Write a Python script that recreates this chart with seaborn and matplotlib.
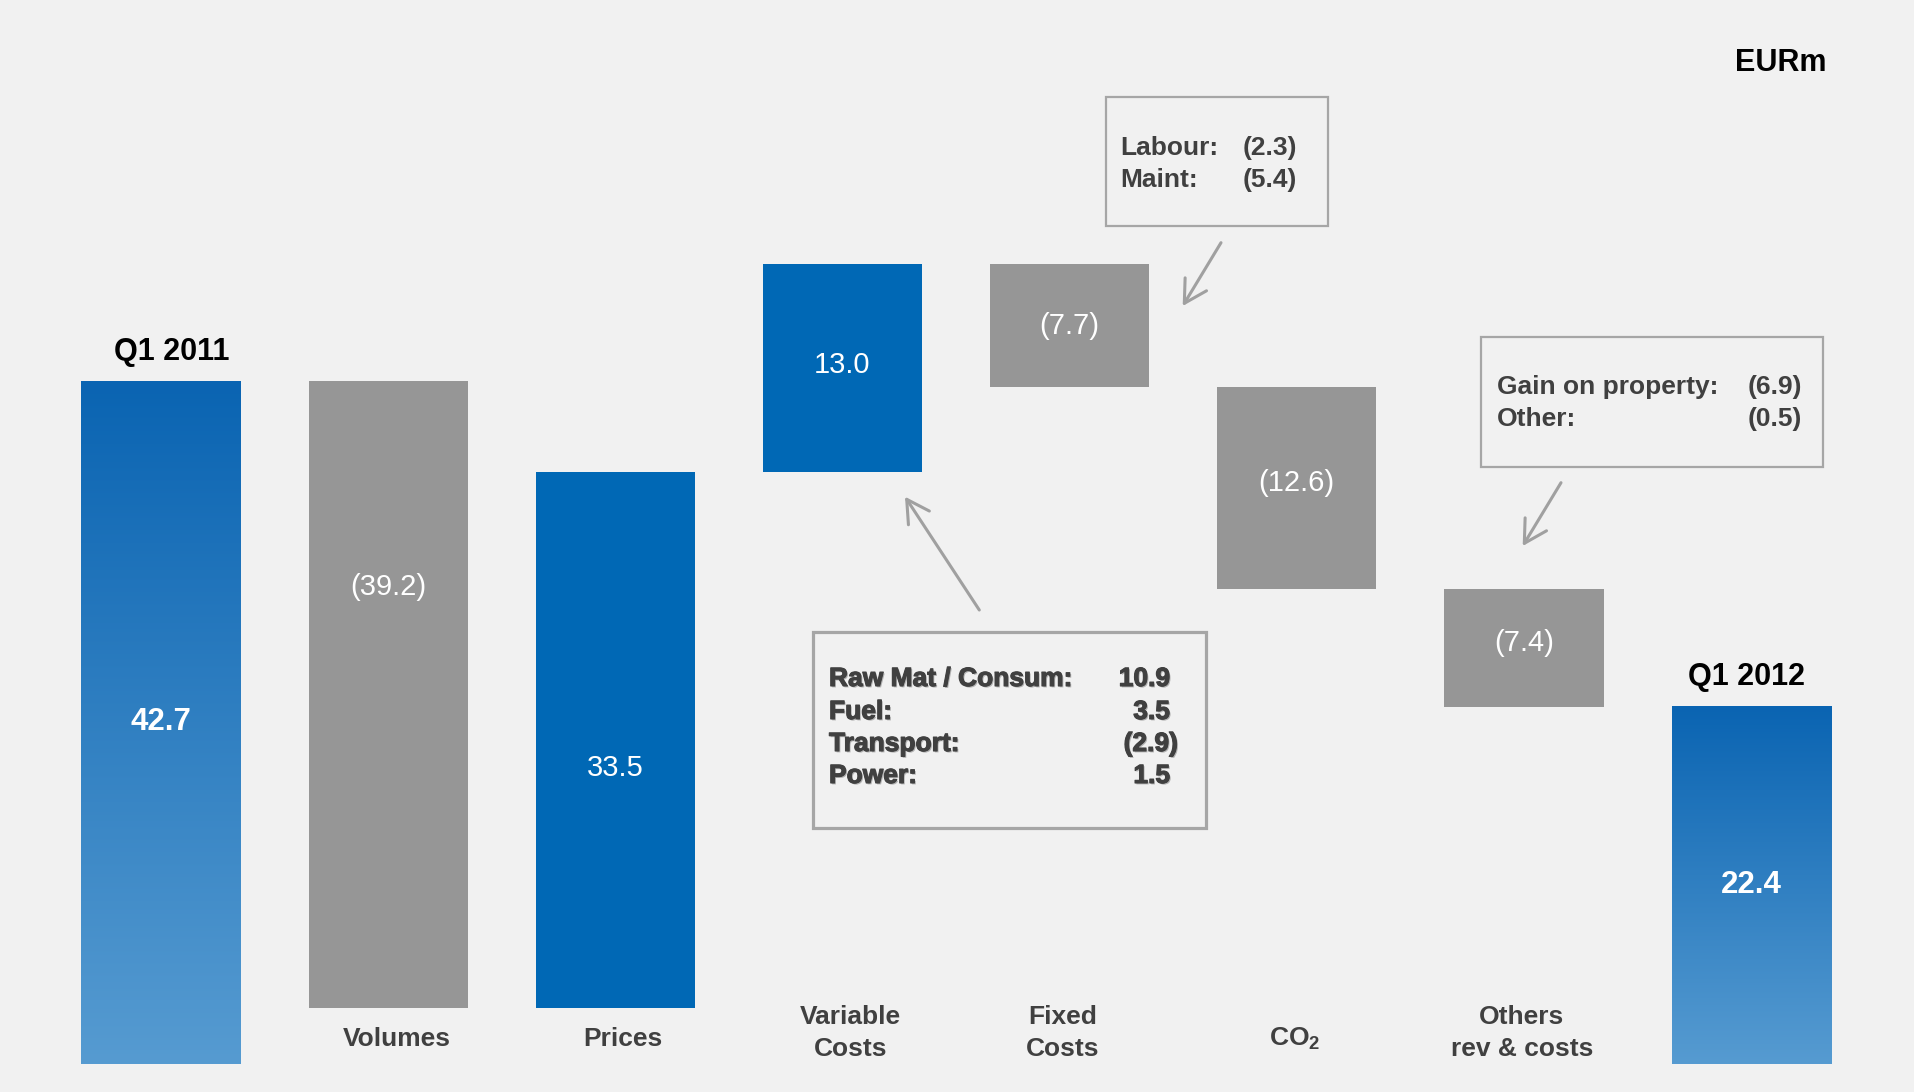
import numpy as np
import pandas as pd
import matplotlib
matplotlib.use("Agg")
import matplotlib.pyplot as plt
import matplotlib.patheffects as pe
import seaborn as sns
from matplotlib.patches import Rectangle
from matplotlib.colors import LinearSegmentedColormap

# ---- data ----
categories = ["Q1 2011", "Volumes", "Prices", "Variable\nCosts", "Fixed\nCosts",
              r"CO$_\mathbf{2}$", "Others\nrev & costs", "Q1 2012"]
changes = [42.7, -39.2, 33.5, 13.0, -7.7, -12.6, -7.4, 22.4]
is_total = [True, False, False, False, False, False, False, True]
value_labels = ["42.7", "(39.2)", "33.5", "13.0", "(7.7)", "(12.6)", "(7.4)", "22.4"]

var_items = ["Raw Mat / Consum:", "Fuel:", "Transport:", "Power:"]
var_values = ["10.9", "3.5", "(2.9)", "1.5"]
fixed_items = ["Labour:", "Maint:"]
fixed_values = ["(2.3)", "(5.4)"]
other_items = ["Gain on property:", "Other:"]
other_values = ["(6.9)", "(0.5)"]

# ---- style ----
BG = "#f1f1f1"
BLUE = "#0068b5"
GREY = "#969696"
TXT = "#404040"
BOX = "#a6a6a6"
W, H = 1915, 1092

sns.set_theme(style="white", rc={"axes.facecolor": BG, "figure.facecolor": BG})
plt.rcParams["font.family"] = ["Liberation Sans", "DejaVu Sans"]
plt.rcParams["mathtext.fontset"] = "custom"
plt.rcParams["mathtext.rm"] = "Liberation Sans"
plt.rcParams["mathtext.bf"] = "Liberation Sans:bold"

# waterfall geometry
bottoms, heights = [], []
level = 0.0
for chg, tot in zip(changes, is_total):
    if tot:
        bottoms.append(0.0)
        heights.append(chg)
        level = chg
    else:
        new = level + chg
        bottoms.append(min(level, new))
        heights.append(abs(chg))
        level = new

df = pd.DataFrame({"category": categories, "height": heights, "bottom": bottoms})

fig = plt.figure(figsize=(W / 100, H / 100), dpi=100)
ax = fig.add_axes([0, 0, 1, 1])

sns.barplot(data=df, x="category", y="height", bottom=df["bottom"].values,
            width=0.7, errorbar=None, color=GREY, saturation=1, ax=ax)

grad_cmap = LinearSegmentedColormap.from_list("q1", ["#0a64b2", "#569bd1"])
grad = np.linspace(0, 1, 256).reshape(-1, 1)

for i, patch in enumerate(ax.patches):
    patch.set_linewidth(0)
    if is_total[i]:
        patch.set_facecolor("none")
        x0, w = patch.get_x(), patch.get_width()
        b, h = patch.get_y(), patch.get_height()
        im = ax.imshow(grad, cmap=grad_cmap, aspect="auto", origin="upper",
                       extent=[x0, x0 + w, b, b + h], zorder=patch.get_zorder())
        im.set_clip_path(patch)
    elif changes[i] > 0:
        patch.set_facecolor(BLUE)
    else:
        patch.set_facecolor(GREY)

# value labels inside the bars
label_shift = [0, 6.7, -1.75, 0.2, 0, 0.3, 0.3, 0]
for i, (lab, b, h) in enumerate(zip(value_labels, bottoms, heights)):
    y = b + h / 2 + label_shift[i]
    if is_total[i]:
        ax.text(i, y, lab, ha="center", va="center", color="white",
                fontsize=22.5, fontweight="bold")
    else:
        ax.text(i, y, lab, ha="center", va="center", color="white", fontsize=21)

# period labels above total bars
for i, dx in zip([0, 7], [0.05, -0.02]):
    ax.text(i + dx, heights[i] + 1.8, categories[i], ha="center", va="center",
            color="black", fontsize=22, fontweight="bold")

# category labels along the bottom
label_dx = [0, 0.037, 0.032, 0.037, -0.03, -0.01, -0.01, 0]
for i, cat in enumerate(categories):
    if is_total[i]:
        continue
    y = 1.94 if "\n" in cat else 1.56
    ax.text(i + label_dx[i], y, cat, ha="center", va="center", color=TXT,
            fontsize=19, fontweight="bold", linespacing=1.38)

ax.set_xlim(-0.708, 7.721)
ax.set_ylim(-1.75, 66.5)
ax.axis("off")


def fpos(x, y):
    return (x / W, 1 - y / H)


def box(x0, y0, x1, y1, lw):
    fig.add_artist(Rectangle(fpos(x0, y1), (x1 - x0) / W, (y1 - y0) / H,
                             transform=fig.transFigure, fill=False,
                             edgecolor=BOX, linewidth=lw))


def box_text(items, values, x_left, x_right, ys, effects=None):
    for item, val, y in zip(items, values, ys):
        fig.text(*fpos(x_left, y), item, ha="left", va="center", color=TXT,
                 fontsize=19, fontweight="bold", path_effects=effects)
        xr = x_right + (8 if val.endswith(")") and x_right < 1200 else 0)
        fig.text(*fpos(xr, y), val, ha="right", va="center", color=TXT,
                 fontsize=19, fontweight="bold", path_effects=effects)


def arrow(tail, tip):
    ax.annotate("", xy=fpos(*tip), xytext=fpos(*tail),
                xycoords="figure fraction", textcoords="figure fraction",
                arrowprops=dict(arrowstyle="->, head_length=0.8, head_width=0.45",
                                color="#a0a0a0", lw=2.2, mutation_scale=20,
                                shrinkA=0, shrinkB=0))


# variable costs breakdown (text has a slight shadow in the original)
shadow = [pe.SimplePatchShadow(offset=(1, -1), shadow_rgbFace="#8a8a8a", alpha=0.6),
          pe.withStroke(linewidth=0.8, foreground=TXT)]
box(812.7, 631.7, 1206, 828.3, 2.3)
box_text(var_items, var_values, 829, 1170, [679, 712, 744, 776], shadow)
arrow((979.3, 610), (905, 496.7))

# fixed costs breakdown
box(1106, 96.7, 1328, 226, 1.6)
box_text(fixed_items, fixed_values, 1120.7, 1297, [148, 180])
arrow((1221, 242.7), (1182.7, 306))

# others breakdown
box(1481, 337.3, 1822.7, 466.7, 1.6)
box_text(other_items, other_values, 1496.7, 1801.7, [387, 419])
arrow((1561, 482.7), (1522.7, 546))

fig.text(*fpos(1827, 63), "EURm", ha="right", va="center", color="black",
         fontsize=22, fontweight="bold")

fig.savefig("out.png", dpi=100, facecolor=BG)
